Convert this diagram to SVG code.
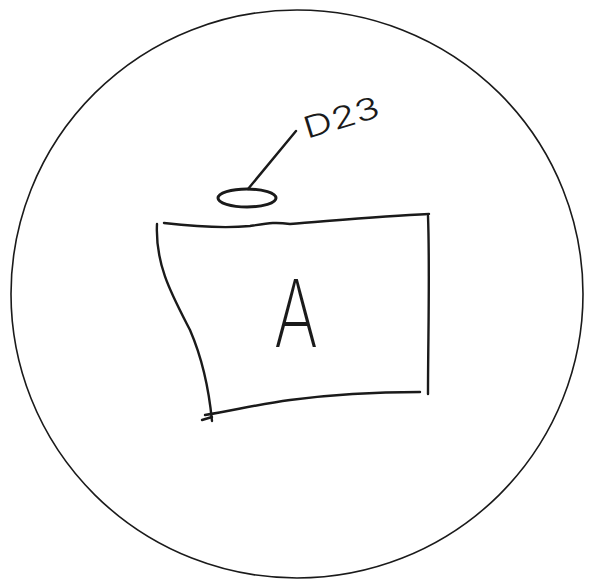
<svg xmlns="http://www.w3.org/2000/svg" width="589" height="582" viewBox="0 0 589 582">
  <style>
    .ink { fill: none; stroke: #1a1a1a; stroke-linecap: round; stroke-linejoin: round; }
    .thin { stroke-width: 1.6; }
    .med { stroke-width: 2.4; }
    .thick { stroke-width: 3; }
    .lbl { font-family: Inter, "Open Sans", "Liberation Sans", sans-serif; fill: #1a1a1a; }
  </style>
  <rect width="589" height="582" fill="#ffffff"/>
  <g id="boundary">
    <ellipse class="ink thin" cx="297" cy="294" rx="286" ry="284"/>
  </g>
  <g id="node-A">
    <path class="ink med" d="M164,223 C190,226 220,229 250,226 C270,223 275,222 290,224 C330,221 380,216 429,214"/>
    <path class="ink med" d="M428,216 C430,270 428,340 428,394"/>
    <path class="ink med" d="M420,392 C370,392 320,396 290,400 C260,404 235,410 205,415"/>
    <path class="ink med" d="M157,224 C155,265 172,295 190,330 C203,360 209,390 212,421"/>
    <path class="ink med" d="M202,420 L212,417"/>
    <text class="lbl" x="296" y="347" font-size="94" text-anchor="middle" textLength="44" lengthAdjust="spacingAndGlyphs" font-weight="200">A</text>
  </g>
  <g id="node-D23">
    <ellipse class="ink thick" cx="247" cy="198" rx="29" ry="9"/>
    <text class="lbl" x="307" y="139" font-size="30" font-weight="300" transform="rotate(-17 307 139)" textLength="78" lengthAdjust="spacingAndGlyphs">D23</text>
  </g>
  <g id="connectors">
    <path class="ink med" d="M248,189 L296,131"/>
  </g>
</svg>
